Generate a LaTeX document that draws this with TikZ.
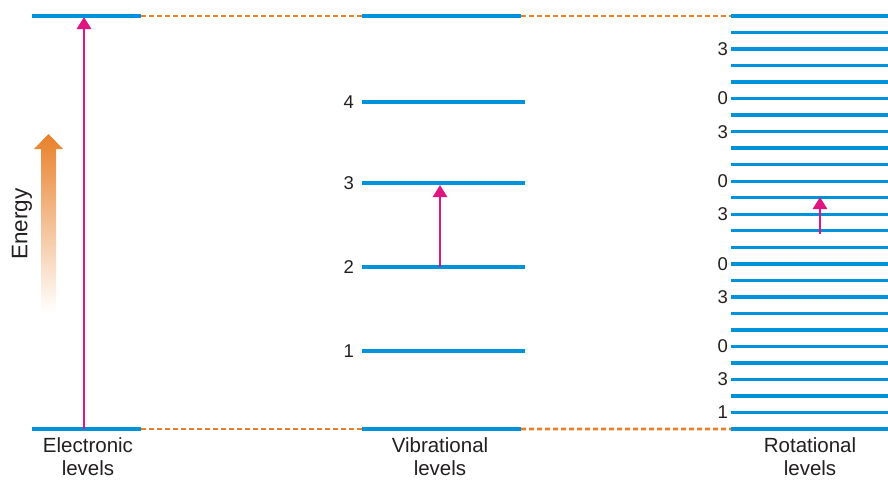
\documentclass[tikz,border=0pt]{standalone}
\usepackage{fontspec}
\setmainfont{Liberation Sans}
\usetikzlibrary{arrows.meta}
\definecolor{lvlblue}{RGB}{0,146,218}
\definecolor{trmag}{RGB}{224,22,128}
\definecolor{dashor}{RGB}{232,128,42}
\definecolor{txt}{RGB}{35,31,32}
\begin{document}
\begin{tikzpicture}[x=1pt,y=-1pt,
  level/.style={draw=lvlblue, line width=3.4pt},
  link/.style={draw=dashor, line width=2.8pt, dash pattern=on 5pt off 3pt},
  trans/.style={draw=trmag, line width=2.8pt, -{Triangle[width=14pt,length=12pt]}},
  lbl/.style={font=\fontsize{20.5}{23}\selectfont, text=txt, align=center, inner sep=0pt},
  num/.style={font=\fontsize{18.5}{20}\selectfont, text=txt, anchor=east, inner sep=0pt}]
\useasboundingbox (0,0) rectangle (888,479);
% Energy gradient arrow
\shade[top color=dashor, bottom color=white, draw=none]
  (41,312) -- (41,149) -- (34,149) -- (48.5,134) -- (63,149) -- (56,149) -- (56,312) -- cycle;
\node[lbl, rotate=90, font=\fontsize{22.5}{24}\selectfont] (energy) at (22,224) {Energy};
% Electronic levels
\coordinate (eTL) at (32,16);  \coordinate (eTR) at (141,16);
\coordinate (eBL) at (32,429); \coordinate (eBR) at (141,429);
\draw[level] (eTL) -- (eTR);
\draw[level] (eBL) -- (eBR);
% Vibrational levels
\coordinate (vTL) at (362,16);  \coordinate (vTR) at (521,16);
\coordinate (vBL) at (362,429); \coordinate (vBR) at (521,429);
\draw[level] (vTL) -- (vTR);
\draw[level] (vBL) -- (vBR);
\foreach \n/\y in {4/102,3/183,2/267,1/351}{
  \coordinate (v\n L) at (362,\y);
  \coordinate (v\n R) at (525,\y);
  \draw[level] (v\n L) -- (v\n R);
  \node[num] (vn\n) at (354,\y) {\n};
}
% Rotational levels
\foreach \i in {0,...,25}{
  \coordinate (r\i L) at (731,{16+\i*16.52});
  \coordinate (r\i R) at (888,{16+\i*16.52});
  \draw[level] (r\i L) -- (r\i R);
}
\foreach \i/\t in {2/3,5/0,7/3,10/0,12/3,15/0,17/3,20/0,22/3,24/1}{
  \node[num] (rn\i) at ([xshift=-3pt]r\i L) {\t};
}
% Dashed links
\draw[link] (eTR) -- (vTL);
\draw[link] (eBR) -- (vBL);
\draw[link] (vTR) -- (r0L);
\draw[link] (vBR) -- (r25L);
% Transitions
\coordinate (ea) at (84,429); \coordinate (eb) at (84,17);
\draw[trans] (ea) -- (eb);
\coordinate (va) at (440,267); \coordinate (vb) at (440,185);
\draw[trans] (va) -- (vb);
\coordinate (ra) at (820,234); \coordinate (rb) at (820,197);
\draw[trans] (ra) -- (rb);
% Captions
\node[lbl] (cE) at (88,457) {Electronic\\levels};
\node[lbl] (cV) at (440,457) {Vibrational\\levels};
\node[lbl] (cR) at (810,457) {Rotational\\levels};
\end{tikzpicture}
\end{document}
